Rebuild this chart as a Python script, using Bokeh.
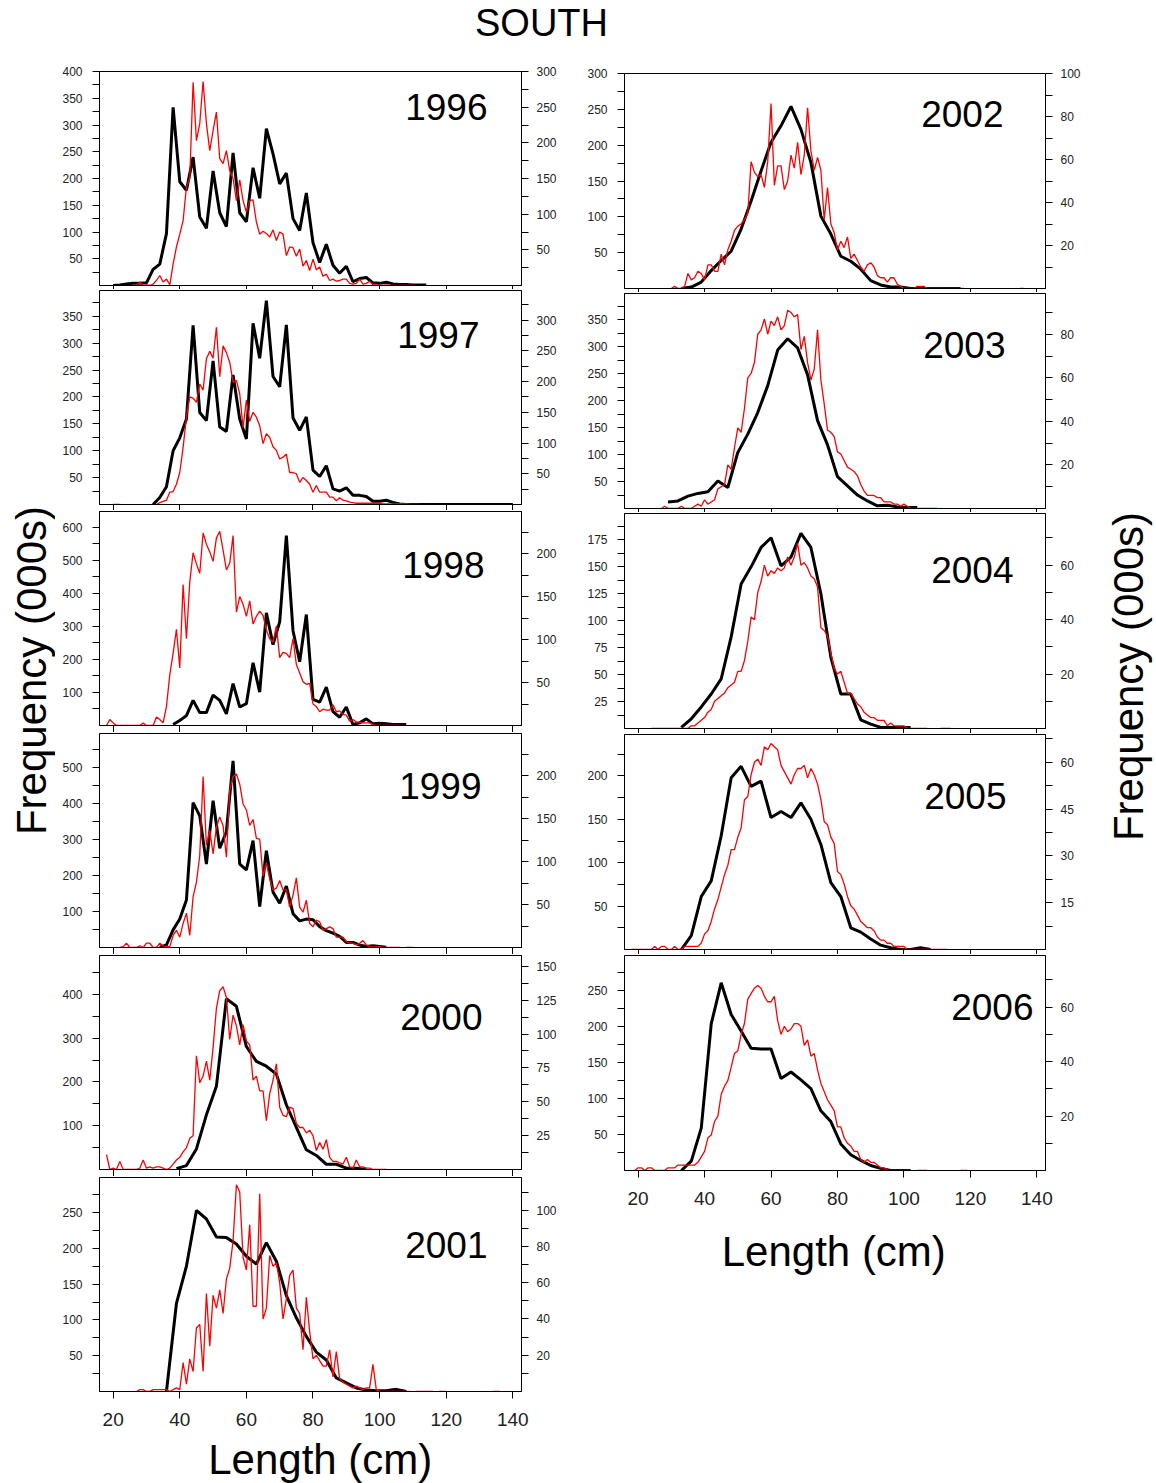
import math
from bokeh.plotting import figure
from bokeh.models import Range1d, LinearAxis, FixedTicker, Label
from bokeh.layouts import column, row
from bokeh.embed import file_html
from bokeh.resources import INLINE

FONT = "Liberation Sans"
X_TICKS = [20, 40, 60, 80, 100, 120, 140]
X_START, X_END = 15.9, 142.6
N = None

# ---------------- data (length in cm, frequency in 000s) ----------------
# black = left axis, red = right axis
B1996_X = list(range(20, 116, 2))
B1996_Y = [0, 1, 3, 4, 4, 5, 30, 40, 97, 333, 194, 178, 240, 128, 107, 214, 136, 110, 248, 136,
           119, 220, 163, 293, 246, 190, 210, 125, 103, 173, 80, 43, 77, 38, 23, 36, 7, 13, 15, 5,
           4, 6, 3, 2, 2, 1, 1, 1]
R1996_X = list(range(27, 111))
R1996_Y = [0, 5, 0, 1, 0, 2, 7, 14, 5, 9, 1, 30, 54, 72, 91, 138, 150, 285, 203, 227,
           286, 227, 189, 217, 243, 178, 171, 189, 161, 150, 119, 148, 119, 103, 119, 120, 89, 72, 76, 73,
           68, 78, 63, 75, 72, 42, 54, 53, 41, 51, 27, 35, 21, 37, 22, 26, 13, 16, 7, 9,
           6, 7, 9, 9, 3, 2, 3, 9, 2, 3, 6, 1, 1, 0, 0, 1, 0, 0, 0, 0, 0, 0, 0, 0]

B1997_X = list(range(32, 142, 2))
B1997_Y = [0, 13, 33, 100, 124, 159, 333, 171, 156, 267, 144, 136, 241, 159, 122, 337, 272, 379, 238, 219,
           334, 161, 138, 163, 64, 52, 72, 29, 25, 31, 17, 17, 15, 6, 6, 8, 4, 1,
           0, 0, 0, 0, 0, 0, 0, 0, 0, 0, 0, 0, 0, 0, 0, 0, 0]
R1997_X = list(range(20, 113))
R1997_Y = [0, 0, 0, N, N, N, N, N, N, N, N, N, N,
           0, 3, 5, 7, 20, 21, 33, 52, 93, 142, 175, 173, 166, 196, 186, 237, 249, 238, 288, 208,
           258, 247, 231, 199, 202, 180, 125, 170, 135, 150, 142, 128, 99, 115, 109, 94, 88, 74, 77, 82,
           52, 52, 50, 36, 44, 39, 33, 20, 31, 20, 20, 20, 12, 12, 6, 11, 7, 6, 4, 3,
           2, 2, 2, 2, 2, 2, 2, 2, 1, 1, 1, 1, 1, 1, 1, 1, 0, 0, 0, 0]

B1998_X = list(range(38, 110, 2))
B1998_Y = [3, 15, 30, 76, 39, 39, 92, 76, 35, 127, 56, 66, 190, 101, 341, 245, 314, 575, 287, 193,
           336, 79, 71, 116, 42, 25, 56, 3, 8, 20, 5, 7, 5, 3, 3, 3]
R1998_X = list(range(18, 109))
R1998_Y = [0, 7, 3, 0, 0, 0, 0, 0, 0, 0, 0, 3, 0, 0, 0, 10, 7, 3, 22, 59,
           84, 112, 67, 164, 101, 167, 201, 188, 177, 224, 211, 202, 191, 218, 226, 204, 181, 189, 221, 132,
           150, 141, 127, 145, 118, 127, 133, 128, 111, 101, 97, 116, 79, 85, 84, 79, 101, 71, 61, 51,
           48, 49, 25, 22, 16, 19, 18, 18, 24, 16, 17, 13, 12, 5, 7, 4, 4, 3, 3, 3,
           1, 0, 0, 0, 0, 0, 0, 0, 0, 0, 0]

B1999_X = list(range(34, 104, 2))
B1999_Y = [1, 7, 49, 79, 132, 403, 366, 232, 408, 276, 322, 519, 232, 216, 297, 114, 269, 154, 123, 171,
           94, 74, 79, 77, 58, 47, 40, 31, 14, 14, 7, 3, 5, 3, 1]
R1999_X = list(range(22, 111))
R1999_Y = [0, 1, 5, 0, 0, 0, 2, 0, 5, 5, 0, 0, 5, 2, 1, 1, 14, 20, 12, 28,
           40, 14, 59, 76, 107, 199, 119, 136, 109, 140, 152, 142, 105, 183, 199, 202, 190, 167, 160, 142,
           149, 127, 126, 83, 98, 80, 67, 69, 78, 67, 67, 47, 61, 81, 47, 41, 55, 28, 24, 32,
           30, 20, 22, 24, 22, 12, 12, 12, 7, 5, 5, 3, 5, 8, 3, 1, 0, 1, 1, 0,
           0, 0, 0, 0, 0, N, 0, 0, 0]

B2000_X = list(range(39, 99, 3))
B2000_Y = [2, 9, 47, 125, 190, 390, 373, 281, 247, 236, 218, 148, 96, 45, 32, 12, 12, 3, 3, 0]
R2000_X = list(range(18, 103))
R2000_Y = [11, 0, 1, 0, 6, 0, 0, 0, 0, 0, 1, 7, 1, 2, 1, 2, 2, 1, 0, 1,
           4, 7, 9, 13, 16, 23, 25, 84, 64, 69, 80, 66, 90, 119, 132, 135, 127, 96, 114, 106,
           92, 107, 95, 92, 66, 69, 58, 58, 36, 56, 66, 78, 46, 40, 39, 46, 45, 34, 31, 31,
           27, 29, 25, 14, 20, 15, 22, 9, 6, 6, 5, 4, 9, 2, 1, 7, 2, 2, 1, 1,
           0, 0, 0, 0, 0]

B2001_X = list(range(36, 111, 3))
B2001_Y = [0, 123, 175, 253, 241, 216, 215, 206, 189, 178, 208, 182, 134, 103, 77, 55, 44, 19, 12, 5,
           2, 1, 1, 3, 0]
R2001_X = list(range(27, 137))
R2001_Y = [0, 1, 1, 0, 0, 1, 1, 1, 1, 1, 0, 1, 2, 1, 16, 4, 18, 11, 35, 37,
           11, 54, 25, 53, 46, 56, 43, 62, 68, 83, 114, 110, 74, 67, 92, 47, 47, 109, 40, 46,
           75, 69, 71, 60, 40, 51, 64, 67, 46, 43, 23, 52, 33, 18, 20, 17, 14, 14, 23, 8,
           22, 7, 5, 4, 3, 2, 3, 2, 1, 2, 2, 15, 1, 0, 0, 0, 0, 0, 0, 0,
           0, 0, 0, N, 0, 0, 0, 0, 0, 0, N, 0, 0, 0,
           N, N, N, N, N, N, N, N, N, N, N, N, N, 0, 0, 0]

B2002_X = list(range(33, 120, 3))
B2002_Y = [0, 2, 9, 25, 39, 52, 83, 122, 164, 204, 227, 254, 222, 176, 101, 76, 45, 38, 27, 11,
           5, 2, 2, 0, 0, 0, 0, 0, 0]
R2002_X = list(range(30, 137))
R2002_Y = [0, 1, 0, 0, 1, 7, 4, 5, 8, 7, 4, 11, 11, 8, 8, 16, 11, 18, 22, 27,
           29, 30, 32, 35, 59, 54, 52, 53, 47, 59, 86, 48, 57, 57, 46, 50, 62, 56, 68, 53,
           62, 84, 64, 55, 61, 55, 32, 47, 30, 26, 18, 22, 19, 24, 14, 16, 13, 10, 8, 11,
           12, 10, 6, 5, 5, 3, 5, 5, 2, 1, 0, 0, 0, 0, 1, 1, 1, 0, 0, 0,
           0, 0, 0, 0, 0, 0, 0, 0, 0,
           N, N, N, N, N, N, N, N, N, N, N, N, N, N, N, N, 0, 0]

B2003_X = list(range(29, 107, 3))
B2003_Y = [12, 14, 23, 28, 31, 51, 39, 104, 138, 178, 228, 294, 315, 298, 248, 163, 118, 59, 42, 25,
           14, 5, 6, 3, 2, 2]
R2003_X = list(range(27, 111))
R2003_Y = [0, 1, 0, 0, 0, 0, 1, 0, 0, 0, 1, 2, 1, 4, 2, 3, 4, 9, 10, 11,
           20, 18, 28, 37, 35, 46, 60, 62, 67, 80, 82, 87, 80, 86, 84, 88, 82, 84, 91, 90,
           88, 89, 73, 79, 67, 59, 64, 82, 59, 48, 36, 35, 33, 26, 25, 22, 19, 18, 17, 15,
           11, 8, 6, 6, 6, 5, 5, 3, 3, 3, 2, 2, 1, 2, 1, 0, 0, 0, 0, 0,
           0, 0, 0, 0]

B2004_X = list(range(33, 105, 3))
B2004_Y = [1, 9, 20, 32, 46, 85, 134, 150, 168, 177, 151, 159, 181, 168, 125, 66, 32, 32, 8, 4,
           1, 1, 1, 1]
R2004_X = list(range(24, 115))
R2004_Y = [0, 0, 0, 0, 0, 0, 0, 0, 0, 0, 0, 0, 1, 1, 2, 3, 4, 6, 7, 10,
           11, 12, 13, 15, 16, 17, 21, 21, 25, 32, 41, 40, 50, 54, 60, 56, 58, 57, 59, 58,
           59, 63, 60, 63, 68, 60, 61, 59, 56, 55, 52, 37, 36, 34, 28, 22, 20, 21, 17, 13,
           13, 11, 9, 8, 6, 5, 4, 4, 3, 3, 3, 1, 2, 1, 1, 1, 1, 0, 0, 0,
           0, 0, 0, 0, N, N, N, 0, 0, 0, 0]

B2005_X = list(range(33, 111, 3))
B2005_Y = [0, 16, 61, 79, 131, 198, 211, 188, 194, 152, 159, 152, 169, 150, 121, 77, 61, 25, 20, 12,
           5, 2, 0, 0, 2, 0]
R2005_X = list(range(18, 114))
R2005_Y = [0, 0, 0, 0, 0, 0, 0, 1, 0, 1, 1, 0, 0, 1, 0, 0, 1, 1, 1, 1,
           1, 2, 5, 6, 9, 13, 16, 20, 24, 27, 32, 32, 36, 39, 48, 49, 56, 60, 61, 59,
           65, 64, 66, 65, 64, 59, 57, 55, 53, 56, 58, 58, 59, 55, 58, 56, 53, 48, 41, 40,
           36, 34, 25, 24, 21, 17, 14, 13, 11, 9, 8, 7, 7, 6, 4, 3, 3, 2, 2, 1,
           1, 1, 1, 0, 0, 0, 0, 0, 0, 0, 0, 0, 0, 0, 0, 0]

B2006_X = list(range(33, 105, 3))
B2006_Y = [0, 13, 59, 204, 261, 217, 194, 170, 169, 169, 128, 137, 126, 114, 83, 68, 37, 22, 14, 7,
           3, 0, 0, 0]
R2006_X = list(range(19, 120))
R2006_Y = [0, 1, 1, 0, 1, 1, 0, 0, 0, 0, 1, 1, 1, 2, 2, 2, 2, 2, 2, 3,
           5, 7, 12, 13, 18, 20, 28, 31, 33, 38, 43, 44, 50, 54, 63, 65, 67, 68, 67, 64,
           62, 62, 64, 55, 50, 53, 51, 52, 54, 54, 53, 46, 48, 42, 43, 37, 32, 29, 26, 24,
           22, 16, 16, 12, 10, 9, 7, 7, 4, 3, 4, 3, 3, 2, 1, 1, 0, 0, 0, 0,
           0, 0, 0, 0, N, 0, 0, 0, 0, N, N, N, N, N, N, N, N, N, 0, 0, 0]

# axis extents: (left max, left label step, right max, right label step)
AXES = {
    1996: (400, 50, 300, 50), 1997: (398, 50, 348, 50), 1998: (648, 100, 249, 50),
    1999: (595, 100, 249, 50), 2000: (489, 100, 158, 25), 2001: (299, 50, 118, 20),
    2002: (300, 50, 100, 20), 2003: (399, 50, 98.7, 20), 2004: (199.5, 25, 79, 20),
    2005: (247.7, 50, 68.9, 15), 2006: (299, 50, 79, 20),
}
SERIES = {
    1996: (B1996_X, B1996_Y, R1996_X, R1996_Y), 1997: (B1997_X, B1997_Y, R1997_X, R1997_Y),
    1998: (B1998_X, B1998_Y, R1998_X, R1998_Y), 1999: (B1999_X, B1999_Y, R1999_X, R1999_Y),
    2000: (B2000_X, B2000_Y, R2000_X, R2000_Y), 2001: (B2001_X, B2001_Y, R2001_X, R2001_Y),
    2002: (B2002_X, B2002_Y, R2002_X, R2002_Y), 2003: (B2003_X, B2003_Y, R2003_X, R2003_Y),
    2004: (B2004_X, B2004_Y, R2004_X, R2004_Y), 2005: (B2005_X, B2005_Y, R2005_X, R2005_Y),
    2006: (B2006_X, B2006_Y, R2006_X, R2006_Y),
}

# layout: (year, border left, right, top, bottom, year-label right edge dx, centre dy)
LEFT_LAYOUT = [(1996, 41, 54, 21, 4, 388, 179), (1997, 44, 51, 1, 6, 380, 170),
               (1998, 44, 51, 1, 7, 385, 161), (1999, 44, 51, 1, 7, 382, 162),
               (2000, 44, 51, 1, 7, 383, 153), (2001, 44, 51, 1, 45, 388, 147)]
RIGHT_LAYOUT = [(2002, 45, 55, 23, 4, 379, 175), (2003, 49, 51, 1, 4, 381, 164),
                (2004, 49, 51, 1, 5, 389, 159), (2005, 49, 51, 1, 5, 382, 154),
                (2006, 49, 51, 1, 45, 409, 164)]


def clean(vals):
    return [float("nan") if v is None else float(v) for v in vals]


def tick_list(start, step, top):
    out, t = [], start
    while t <= top + 1e-9:
        out.append(round(t, 4))
        t += step
    return out


def style_axis(ax, tick_out, size, standoff):
    ax.axis_line_color = "black"
    ax.axis_line_width = 1
    ax.major_tick_line_color = "black"
    ax.minor_tick_line_color = "black"
    ax.major_tick_in = 0
    ax.minor_tick_in = 0
    ax.major_tick_out = tick_out
    ax.minor_tick_out = tick_out
    ax.major_label_text_font = FONT
    ax.major_label_text_font_size = size
    ax.major_label_text_color = "#222222"
    ax.major_label_standoff = standoff


def make_panel(year, bl, br, bt, bb, dx, dy, width, frame_h, bottom):
    lmax, lstep, rmax, rstep = AXES[year]
    bx, by, rx, ry = SERIES[year]
    p = figure(width=width, height=bt + frame_h + bb,
               x_range=Range1d(X_START, X_END), y_range=Range1d(0, lmax),
               x_axis_type=None, y_axis_type=None,
               output_backend="svg", toolbar_location=None,
               min_border_left=bl, min_border_right=br,
               min_border_top=bt, min_border_bottom=bb)
    p.extra_y_ranges = {"r": Range1d(0, rmax)}
    p.outline_line_color = "black"
    p.outline_line_width = 1
    p.background_fill_color = "white"
    p.border_fill_color = "white"

    if bottom:
        xa = LinearAxis(ticker=FixedTicker(ticks=X_TICKS, minor_ticks=[]))
        style_axis(xa, 7, "19px", 14)
    else:
        # unlabeled tick marks only
        xa = LinearAxis(ticker=FixedTicker(ticks=[], minor_ticks=X_TICKS))
        style_axis(xa, bb, "12px", 0)
    p.add_layout(xa, "below")

    la = LinearAxis(ticker=FixedTicker(ticks=tick_list(lstep, lstep, lmax),
                                       minor_ticks=tick_list(lstep / 2, lstep, lmax)))
    style_axis(la, 7, "12px", 10)
    p.add_layout(la, "left")

    ra = LinearAxis(y_range_name="r",
                    ticker=FixedTicker(ticks=tick_list(rstep, rstep, rmax),
                                       minor_ticks=tick_list(rstep / 2, rstep, rmax)))
    style_axis(ra, 7, "12px", 8)
    p.add_layout(ra, "right")

    p.line(x=bx, y=clean(by), line_color="black", line_width=3)
    p.line(x=rx, y=clean(ry), line_color="#ff0000", line_width=1.3, y_range_name="r")

    p.add_layout(Label(x=dx, y=dy, x_units="screen", y_units="screen", text=str(year),
                       text_align="right", text_baseline="middle",
                       text_font=FONT, text_font_size="37px", text_color="black"))
    return p


def text_fig(w, h, x, y, text, size, angle=0.0):
    p = figure(width=w, height=h, x_range=Range1d(0, w), y_range=Range1d(0, h),
               x_axis_type=None, y_axis_type=None, output_backend="svg",
               toolbar_location=None, min_border=0,
               min_border_left=0, min_border_right=0, min_border_top=0, min_border_bottom=0)
    p.outline_line_color = None
    p.background_fill_color = "white"
    p.border_fill_color = "white"
    p.add_layout(Label(x=x, y=y, text=text, text_font=FONT, text_font_size=size,
                       text_align="center", text_baseline="middle", angle=angle,
                       text_color="black"))
    return p


left_figs = [make_panel(*spec, width=520, frame_h=214, bottom=(i == len(LEFT_LAYOUT) - 1))
             for i, spec in enumerate(LEFT_LAYOUT)]
right_figs = [make_panel(*spec, width=525, frame_h=215, bottom=(i == len(RIGHT_LAYOUT) - 1))
              for i, spec in enumerate(RIGHT_LAYOUT)]

left_xlab = text_fig(520, 47, 272, 24, "Length (cm)", "42px")
right_xlab = text_fig(525, 268, 261, 232, "Length (cm)", "42px")
left_ylab = text_fig(55, 1433, 31, 813, "Frequency (000s)", "42px", math.pi / 2)
right_ylab = text_fig(56, 1433, 28, 807, "Frequency (000s)", "42px", math.pi / 2)
title = text_fig(1156, 50, 541, 28, "SOUTH", "38px")

left_col = column(*left_figs, left_xlab, spacing=0)
right_col = column(*right_figs, right_xlab, spacing=0)
body = row(left_ylab, left_col, right_col, right_ylab, spacing=0)
page = column(title, body, spacing=0)

html = file_html(page, INLINE, title="SOUTH")
html = html.replace("<head>", "<head><style>html,body{margin:0;padding:0;}</style>", 1)
open("out.html", "w").write(html)
